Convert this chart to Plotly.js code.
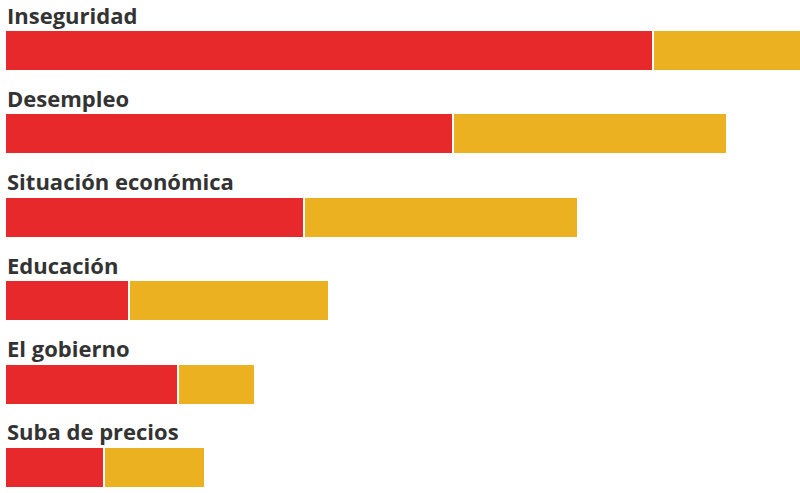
<!DOCTYPE html>
<html>
<head>
<meta charset="utf-8">
<script src="https://cdn.plot.ly/plotly-3.0.1.min.js"></script>
<style>html,body{margin:0;padding:0;background:#fff;}#chart{width:800px;height:493px;}</style>
</head>
<body>
<div id="chart"></div>
<script>
const categories = ["Inseguridad", "Desempleo", "Situación económica", "Educación", "El gobierno", "Suba de precios"];
const primero = [64.5, 44.6, 29.7, 12.3, 17.2, 9.8];
const segundo = [16.0, 27.2, 27.3, 19.9, 7.7, 10.1];
const colorPrimero = "#E8292C";
const colorSegundo = "#EBB121";

const idx = categories.map((c, i) => i);

const traces = [
  {type: "bar", orientation: "h", y: idx, x: primero, name: "Primero",
   marker: {color: colorPrimero, line: {color: "#ffffff", width: 2}}, hoverinfo: "x"},
  {type: "bar", orientation: "h", y: idx, x: segundo, name: "Segundo",
   marker: {color: colorSegundo, line: {color: "#ffffff", width: 2}}, hoverinfo: "x"}
];

const annotations = categories.map((c, i) => ({
  xref: "paper", yref: "y", x: 0, y: i, xanchor: "left", yanchor: "middle",
  yshift: 36, text: c, showarrow: false,
  font: {family: "'Open Sans', sans-serif", size: 22, color: "#333333", weight: "bold"}
}));

const layout = {
  width: 800, height: 493,
  margin: {l: 5, r: 0, t: 0, b: 0, pad: 0},
  barmode: "stack", bargap: 0.508,
  showlegend: false,
  paper_bgcolor: "#ffffff", plot_bgcolor: "#ffffff",
  xaxis: {range: [0, 79.1], visible: false, fixedrange: true},
  yaxis: {range: [5.306, -0.6055], visible: false, fixedrange: true},
  annotations: annotations
};

Plotly.newPlot("chart", traces, layout, {displayModeBar: false, staticPlot: true});
</script>
</body>
</html>
